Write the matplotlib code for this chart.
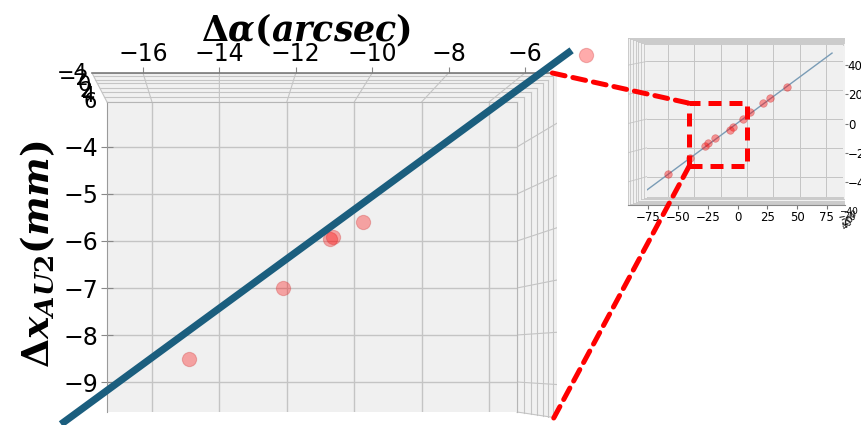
import numpy as np
import matplotlib.pyplot as plt
from matplotlib.patches import Rectangle, ConnectionPatch, Polygon

plt.rcParams["mathtext.fontset"] = "dejavuserif"

W, H = 861, 425

# zoomed view: measured offsets
alpha_arcsec = [-14.90, -12.11, -10.72, -10.63, -9.74, -3.12]
dx_au2_mm = [-8.51, -7.00, -5.96, -5.91, -5.60, -2.04]
fit_slope = 0.525
fit_intercept = -0.08
fit_span = [-18.7, -3.55]

# full-range overview
overview_x = [37.9, 21.8, 15.2, 2.8, -3.8, -13.3, -16.1, -30.3, -37.0, -39.8, -54.0, -75.0]
overview_y = [22.2, 14.6, 11.1, 4.9, 0.0, -5.6, -7.6, -13.2, -16.7, -18.8, -27.0, -38.2]
overview_slope = 0.542
overview_intercept = 2.1
overview_span = [-94.8, 80.6]
zoom_box = (-55, -33, 55, 44)  # x, y, width, height

x_ticks = [-16, -14, -12, -10, -8, -6]
y_ticks = [-4, -5, -6, -7, -8, -9]
ov_x_ticks = [-75, -50, -25, 0, 25, 50, 75]
ov_y_ticks = [-40, -20, 0, 20, 40]

PANE = "#f1f1f1"
GRID = "#c4c4c4"
EDGE = "#9a9a9a"


def px_rect(l, t, r, b):
    return [l / W, 1 - b / H, (r - l) / W, (b - t) / H]


def minus(v):
    return f"\u2212{abs(v)}" if v < 0 else str(v)


def to_axes(src, dst, pts):
    disp = src.transData.transform(pts)
    return dst.transData.inverted().transform(disp)


def perspective_frames(back, face, tvals, sides, lw=0.8):
    """Nested frames between the front face and the back box, drawn in back coords."""
    fx0, fx1 = face.get_xlim()
    fy0, fy1 = face.get_ylim()
    (l0, b0), (r0, t0) = to_axes(face, back, [(fx0, fy0), (fx1, fy1)])
    bx0, bx1 = back.get_xlim()
    by0, by1 = back.get_ylim()
    for t in tvals:
        l = l0 + (bx0 - l0) * t
        r = r0 + (bx1 - r0) * t
        top = t0 + (by1 - t0) * t
        bot = b0 + (by0 - b0) * t
        if "top" in sides:
            back.plot([l, r], [top, top], color=GRID, lw=lw, zorder=1)
        if "right" in sides:
            back.plot([r, r], [bot, top], color=GRID, lw=lw, zorder=1)
        if "left" in sides:
            back.plot([l, l], [bot, top], color=GRID, lw=lw, zorder=1)
        if "bottom" in sides:
            back.plot([l, r], [bot, bot], color=GRID, lw=lw, zorder=1)
    return (l0, r0, b0, t0), (bx0, bx1, by0, by1)


fig = plt.figure(figsize=(W / 100, H / 100), dpi=100)

# ---- zoomed panel ----
back = fig.add_axes(px_rect(92, 73, 557, 418), zorder=0)
back.set_facecolor("none")
back.set_xlim(-17.335, -5.16)
back.set_ylim(-9.64, -3.04)
for s in ["left", "right", "bottom"]:
    back.spines[s].set_visible(False)
back.spines["top"].set_color("#7a7a7a")
back.spines["top"].set_linewidth(1.2)
back.xaxis.tick_top()
back.set_xticks(x_ticks)
back.set_xticklabels([minus(v) for v in x_ticks])
back.tick_params(axis="x", labelsize=17, length=4, color="#888888", pad=1)
back.set_yticks([])

face = fig.add_axes(px_rect(107, 102, 517, 412), zorder=1)
face.set_facecolor("#f0f0f0")
face.set_xlim(-17.335, -5.17)
face.set_ylim(-9.638, -3.043)
face.set_xticks(x_ticks)
face.set_yticks(y_ticks)
face.set_yticklabels([minus(v) for v in y_ticks])
face.tick_params(axis="x", length=0, labelbottom=False)
face.tick_params(axis="y", labelsize=17, length=8, direction="inout", color="#888888", pad=2)
face.grid(True, color=GRID, lw=1.0)
face.spines["bottom"].set_visible(False)
face.spines["left"].set_color(EDGE)
face.spines["top"].set_color("#b5b5b5")
face.spines["right"].set_color("#b5b5b5")

(l0, r0, b0, t0), (bx0, bx1, by0, by1) = perspective_frames(
    back, face, [0.0, 0.17, 0.34, 0.5, 0.64, 0.77, 0.89, 1.0], ["top", "right"])
# top and right panes seen in perspective
back.add_patch(Polygon([(l0, t0), (bx0, by1), (bx1, by1), (bx1, by0), (r0, b0), (r0, t0)],
                       closed=True, facecolor=PANE, edgecolor="none", zorder=0))
back.plot([bx0, l0], [by1, t0], color=GRID, lw=0.8)
back.plot([r0, bx1], [b0, by0], color=GRID, lw=0.8)
# grid lines running back from the face to the outer frame
for v in x_ticks:
    (xf, yf), = to_axes(face, back, [(v, face.get_ylim()[1])])
    back.plot([xf, v], [yf, by1], color=GRID, lw=0.8)
for v in y_ticks:
    (xf, yf), = to_axes(face, back, [(face.get_xlim()[1], v)])
    back.plot([xf, bx1], [yf, v], color=GRID, lw=0.8)

# collapsed depth-axis labels
for i, lab in enumerate(["\u22124", "\u22122", "0", "2", "4", "6"]):
    back.text(-0.01 + 0.004 * i, 1.0 - 0.017 * i, lab, transform=back.transAxes,
              ha="right", va="center", fontsize=15, zorder=0)

xf = np.array(fit_span)
face.plot(xf, fit_slope * xf + fit_intercept, color="#1b5e7e", lw=5.2,
          solid_capstyle="butt", clip_on=False, zorder=5)
face.scatter(alpha_arcsec, dx_au2_mm, s=105, color="red", alpha=0.33,
             edgecolors="#d04040", linewidths=0.8, clip_on=False, zorder=4)

fig.text(306 / W, 1 - 30 / H, r"$\mathbf{\Delta}\boldsymbol{\alpha(arcsec)}$",
         ha="center", va="center", fontsize=25)
fig.text(38 / W, 1 - 254 / H,
         r"$\mathbf{\Delta}\boldsymbol{x}_{\boldsymbol{AU2}}\boldsymbol{(mm)}$",
         ha="center", va="center", fontsize=27, rotation=90)

# ---- overview panel ----
ov_back = fig.add_axes(px_rect(628, 38, 845, 205), zorder=0)
ov_back.set_facecolor(PANE)
ov_back.set_xlim(-92, 90.3)
ov_back.set_ylim(-55.8, 58.6)
for s in ["left", "right", "top"]:
    ov_back.spines[s].set_visible(False)
ov_back.spines["bottom"].set_color("#8a8a8a")
ov_back.set_xticks(ov_x_ticks)
ov_back.set_yticks(ov_y_ticks)
ov_back.yaxis.tick_right()
ov_back.set_xticklabels([minus(v) for v in ov_x_ticks])
ov_back.set_yticklabels([minus(v) for v in ov_y_ticks])
ov_back.tick_params(axis="x", labelsize=8.5, length=3, color="#777777", pad=1)
ov_back.tick_params(axis="y", labelsize=8.5, length=2, color="#777777", pad=0)

ov = fig.add_axes(px_rect(647, 45, 843, 197), zorder=1)
ov.set_facecolor("#f0f0f0")
ov.set_xlim(-94.8, 91)
ov.set_ylim(-54.2, 51.4)
ov.set_xticks(ov_x_ticks)
ov.set_yticks(ov_y_ticks)
ov.tick_params(length=0, labelbottom=False, labelleft=False)
ov.grid(True, color=GRID, lw=0.7)
for s in ov.spines.values():
    s.set_visible(False)

(l0, r0, b0, t0), (bx0, bx1, by0, by1) = perspective_frames(
    ov_back, ov, [0.0, 0.15, 0.3, 0.45, 0.6, 0.75, 0.88, 1.0], ["left", "top", "bottom"], lw=0.6)
for v in ov_y_ticks:
    (xf, yf), = to_axes(ov, ov_back, [(ov.get_xlim()[0], v)])
    ov_back.plot([bx0, xf], [v, yf], color=GRID, lw=0.6)

# collapsed depth-axis labels of the overview
for i, lab in enumerate(["\u221240", "\u221220", "0", "20", "40"]):
    ov_back.text(1.06 - 0.004 * i, -0.01 - 0.016 * i, lab, transform=ov_back.transAxes,
                 ha="right", va="top", fontsize=6.5, rotation=10 * i)

ox = np.array(overview_span)
ov.plot(ox, overview_slope * ox + overview_intercept, color="#7a9cb6", lw=1.0, zorder=3)
ov.scatter(overview_x, overview_y, s=30, color="red", alpha=0.4,
           edgecolors="#c03030", linewidths=0.5, zorder=4)

dash = (0, (2.6, 1.6))
ov.add_patch(Rectangle(zoom_box[:2], zoom_box[2], zoom_box[3], fill=False,
                       edgecolor="red", lw=3.6, linestyle=dash, zorder=6))

bx, by, bw, bh = zoom_box
for corner_a, corner_b in [((0.99, 1.0), (bx, by + bh)), ((0.993, 0.0), (bx, by))]:
    con = ConnectionPatch(xyA=corner_a, coordsA=back.transAxes,
                          xyB=corner_b, coordsB=ov.transData,
                          color="red", lw=3.6, linestyle=dash, zorder=10)
    fig.add_artist(con)

fig.savefig("out.png", dpi=100)
